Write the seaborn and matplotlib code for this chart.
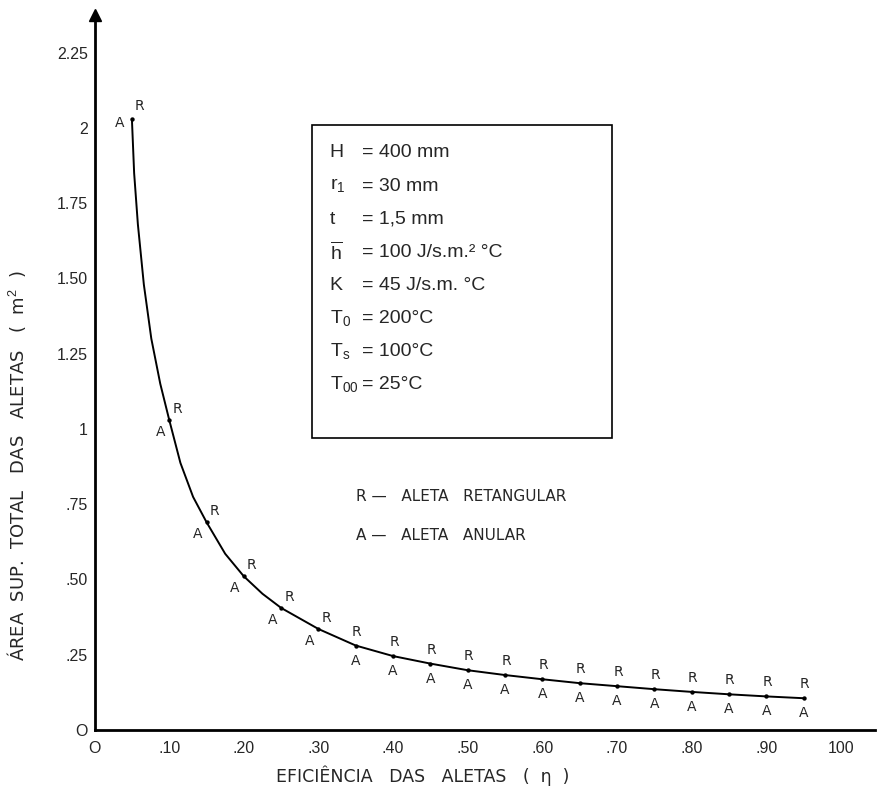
import matplotlib
matplotlib.use("Agg")
import matplotlib.pyplot as plt
import seaborn as sns
import pandas as pd

# efficiency of the fins and total fin area at the R / A marks
eficiencia = [0.05, 0.10, 0.15, 0.20, 0.25, 0.30, 0.35, 0.40, 0.45, 0.50,
              0.55, 0.60, 0.65, 0.70, 0.75, 0.80, 0.85, 0.90, 0.95]
area = [2.03, 1.03, 0.69, 0.51, 0.405, 0.335, 0.28, 0.245, 0.22, 0.198,
        0.182, 0.168, 0.155, 0.145, 0.135, 0.126, 0.118, 0.111, 0.105]

# extra points read along the drawn curve between the first marks
curva_eta = [0.053, 0.058, 0.066, 0.076, 0.088, 0.115, 0.132, 0.175, 0.225]
curva_area = [1.85, 1.68, 1.48, 1.30, 1.15, 0.887, 0.774, 0.585, 0.452]

x_ticks = [0, 0.1, 0.2, 0.3, 0.4, 0.5, 0.6, 0.7, 0.8, 0.9, 1.0]
x_labels = ["O", ".10", ".20", ".30", ".40", ".50", ".60", ".70", ".80", ".90", "100"]
y_ticks = [0, 0.25, 0.5, 0.75, 1.0, 1.25, 1.5, 1.75, 2.0, 2.25]
y_labels = ["O", ".25", ".50", ".75", "1", "1.25", "1.50", "1.75", "2", "2.25"]

parametros = [("H", "= 400 mm"),
              ("r$_1$", "= 30 mm"),
              ("t", "= 1,5 mm"),
              (r"$\overline{\mathrm{h}}$", "= 100 J/s.m.² °C"),
              ("K", "= 45 J/s.m. °C"),
              ("T$_0$", "= 200°C"),
              ("T$_\\mathrm{s}$", "= 100°C"),
              ("T$_{00}$", "= 25°C")]

sns.set_style("white")
plt.rcParams['font.family'] = ['Liberation Sans', 'DejaVu Sans']
plt.rcParams['mathtext.fontset'] = 'custom'
plt.rcParams['mathtext.rm'] = 'Liberation Sans'

df = pd.DataFrame({"eta": eficiencia + curva_eta, "area": area + curva_area})
df = df.sort_values("eta")
marcas = pd.DataFrame({"eta": eficiencia, "area": area})

fig = plt.figure(figsize=(8.84, 7.95), dpi=100)
ax = fig.add_axes([0.107, 0.082, 0.883, 0.899])

sns.lineplot(data=df, x="eta", y="area", ax=ax, color="black", linewidth=1.4,
             sort=False)
sns.scatterplot(data=marcas, x="eta", y="area", ax=ax, color="black", s=10,
                linewidth=0)

# R / A labels on each point
for xv, yv in zip(eficiencia, area):
    if xv < 0.07:
        r_off, a_off = (8, 13), (-12, -4)
    elif xv <= 0.31:
        r_off, a_off = (8, 11), (-9, -12)
    else:
        r_off, a_off = (1, 14), (0, -15)
    ax.annotate("R", (xv, yv), textcoords="offset pixels", xytext=r_off,
                ha="center", va="center", fontsize=10, family="DejaVu Sans")
    ax.annotate("A", (xv, yv), textcoords="offset pixels", xytext=a_off,
                ha="center", va="center", fontsize=10, family="DejaVu Sans")

ax.set_xlim(0, 1.046)
ax.set_ylim(0, 2.375)
ax.set_xticks(x_ticks)
ax.set_xticklabels(x_labels, fontsize=11.5)
ax.set_yticks(y_ticks)
ax.set_yticklabels(y_labels, fontsize=11.5)
ax.tick_params(axis="y", direction="in", length=9, width=1.2, pad=5)
ax.tick_params(axis="x", direction="in", length=14, width=1.2, pad=8)

for s in ["top", "right"]:
    ax.spines[s].set_visible(False)
for s in ["left", "bottom"]:
    ax.spines[s].set_color("black")
    ax.spines[s].set_linewidth(2)

# arrow on top of y axis
ax.plot([0], [2.375], marker="^", color="black", markersize=9, clip_on=False)

ax.set_xlabel("EFICIÊNCIA   DAS   ALETAS   (  η  )", fontsize=12.5,
              family="DejaVu Sans")
ax.xaxis.set_label_coords(0.42, -0.05)
ax.set_ylabel("ÁREA  SUP.  TOTAL   DAS   ALETAS   (  m$^2$  )", fontsize=13,
              family="DejaVu Sans")
ax.yaxis.set_label_coords(-0.085, 0.37)

# parameter box
box = plt.Rectangle((0.292, 0.97), 0.402, 1.04, fill=False, edgecolor="black",
                    linewidth=1.2)
ax.add_patch(box)
for k, (sym, val) in enumerate(parametros):
    yk = 1.917 - k * 0.11
    ax.text(0.315, yk, sym, fontsize=14, va="center", ha="left")
    ax.text(0.358, yk, val, fontsize=14, va="center", ha="left")

ax.text(0.35, 0.774, "R —   ALETA   RETANGULAR", fontsize=11, va="center",
        ha="left", family="DejaVu Sans")
ax.text(0.35, 0.645, "A —   ALETA   ANULAR", fontsize=11, va="center",
        ha="left", family="DejaVu Sans")

plt.savefig("out.png", dpi=100)
